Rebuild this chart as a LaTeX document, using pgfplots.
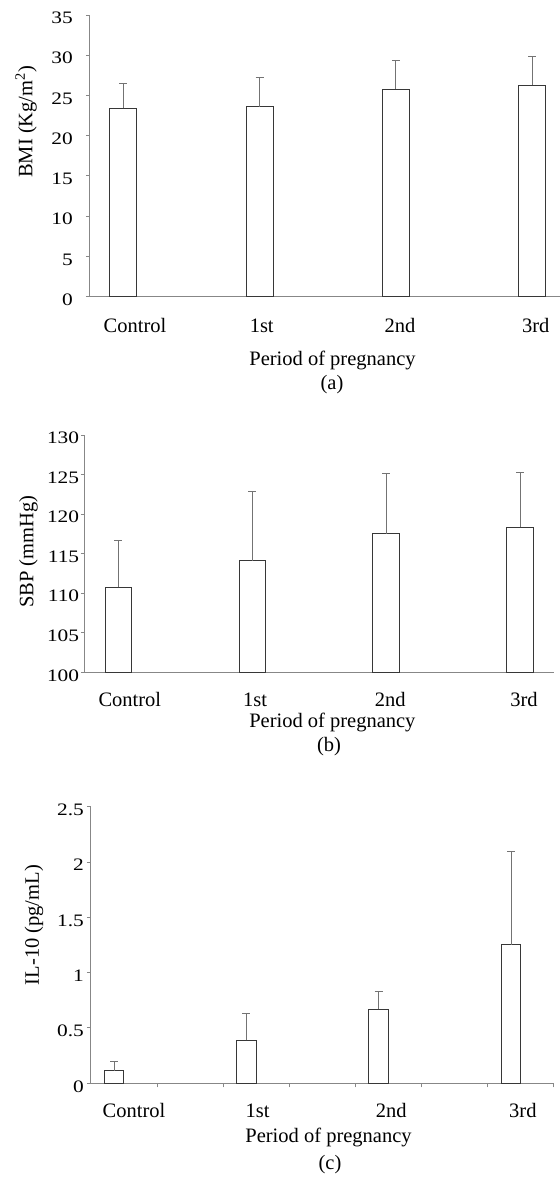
\documentclass[border=0pt]{standalone}
\usepackage{fontspec}
\setmainfont{Liberation Serif}
\newfontfamily\tickfont{Liberation Serif}[FakeStretch=1.22]
\usepackage{pgfplots}
\pgfplotsset{compat=1.18}
\definecolor{axisgray}{RGB}{135,135,135}
\definecolor{bargray}{RGB}{55,55,55}
\definecolor{errgray}{RGB}{115,115,115}
\newcommand{\txt}{\fontsize{20.5}{24}\selectfont}
\newcommand{\tck}{\tickfont\fontsize{17.5}{20}\selectfont}
\pgfplotsset{
  panel/.style={
    scale only axis,
    anchor=south west,
    axis lines*=left,
    axis line style={axisgray, line width=1pt},
    tick align=outside,
    major tick length=4pt,
    minor tick length=4pt,
    tick style={axisgray, line width=1pt},
    major x tick style={draw=none},
    /pgf/number format/assume math mode=true,
    yticklabel style={font=\tck, anchor=east, inner sep=0pt, yshift=-3pt},
    xticklabel style={font=\txt, anchor=base, inner sep=0pt},
    xlabel style={font=\txt, anchor=base, inner sep=0pt},
    ylabel style={font=\txt, anchor=center, inner sep=0pt},
    xticklabels={Control,1st,2nd,3rd},
  },
  bars/.style={
    ybar, fill=white, draw=bargray, line width=1pt,
    error bars/y dir=plus, error bars/y explicit,
    error bars/error mark=|,
    error bars/error bar style={errgray, line width=1pt},
    error bars/error mark options={errgray, line width=1pt, mark size=4pt},
  },
}
\begin{document}
\begin{tikzpicture}
\path[use as bounding box] (0pt,0pt) rectangle (560pt,-1179pt);
% ---------- (a) BMI ----------
\begin{axis}[panel,
  at={(90pt,-296.7pt)}, width=470pt, height=281.7pt,
  xmin=0, xmax=6.897, ymin=0, ymax=35,
  ytick={0,5,...,35},
  xtick={0.66,2.52,4.55,6.54},
  yticklabel style={xshift=-13pt},
  xticklabel style={yshift=-31.6pt},
  xlabel={Period of pregnancy},
  xlabel style={at={(axis description cs:0.516,0)}, yshift=-68.3pt},
  ylabel={BMI (Kg/m\textsuperscript{2})},
  ylabel style={at={(axis description cs:-0.136,0.621)}},
]
\addplot[bars, bar width=27pt] table[x=x, y=y, y error=e] {
x     y     e
0.49  23.4  3.1
2.49  23.6  3.6
4.49  25.8  3.6
6.49  26.3  3.5
};
\end{axis}
\node[font=\txt, inner sep=0pt] at (332pt,-384.2pt) {(a)};
% ---------- (b) SBP ----------
\begin{axis}[panel,
  at={(85pt,-672.3pt)}, width=468.5pt, height=237.3pt,
  xmin=0, xmax=7, ymin=100, ymax=130,
  ytick={100,105,...,130},
  xtick={0.67,2.54,4.56,6.56},
  yticklabel style={xshift=-1.7pt},
  xticklabel style={yshift=-29.7pt},
  xlabel={Period of pregnancy},
  xlabel style={at={(axis description cs:0.528,0)}, yshift=-55.4pt},
  ylabel={SBP (mmHg)},
  ylabel style={at={(axis description cs:-0.1206,0.508)}},
]
\addplot[bars, bar width=26.4pt] table[x=x, y=y, y error=e] {
x     y       e
0.5   110.75  5.89
2.5   114.11  8.81
4.5   117.52  7.59
6.5   118.33  6.91
};
\end{axis}
\node[font=\txt, inner sep=0pt] at (329pt,-747pt) {(b)};
% ---------- (c) IL-10 ----------
\begin{axis}[panel,
  at={(91pt,-1083.3pt)}, width=463pt, height=276.6pt,
  xmin=0, xmax=7, ymin=0, ymax=2.5,
  ytick={0,0.5,...,2.5},
  xtick={0.65,2.52,4.54,6.53},
  minor xtick={1,2,...,7},
  yticklabel style={xshift=-3pt},
  xticklabel style={yshift=-30pt},
  xlabel={Period of pregnancy},
  xlabel style={at={(axis description cs:0.513,0)}, yshift=-59.3pt},
  ylabel={IL-10 (pg/mL)},
  ylabel style={at={(axis description cs:-0.123,0.572)}},
]
\addplot[bars, bar width=19.5pt] table[x=x, y=y, y error=e] {
x     y      e
0.35  0.114  0.086
2.35  0.389  0.246
4.35  0.668  0.166
6.35  1.252  0.847
};
\end{axis}
\node[font=\txt, inner sep=0pt] at (330pt,-1165pt) {(c)};
\end{tikzpicture}
\end{document}
